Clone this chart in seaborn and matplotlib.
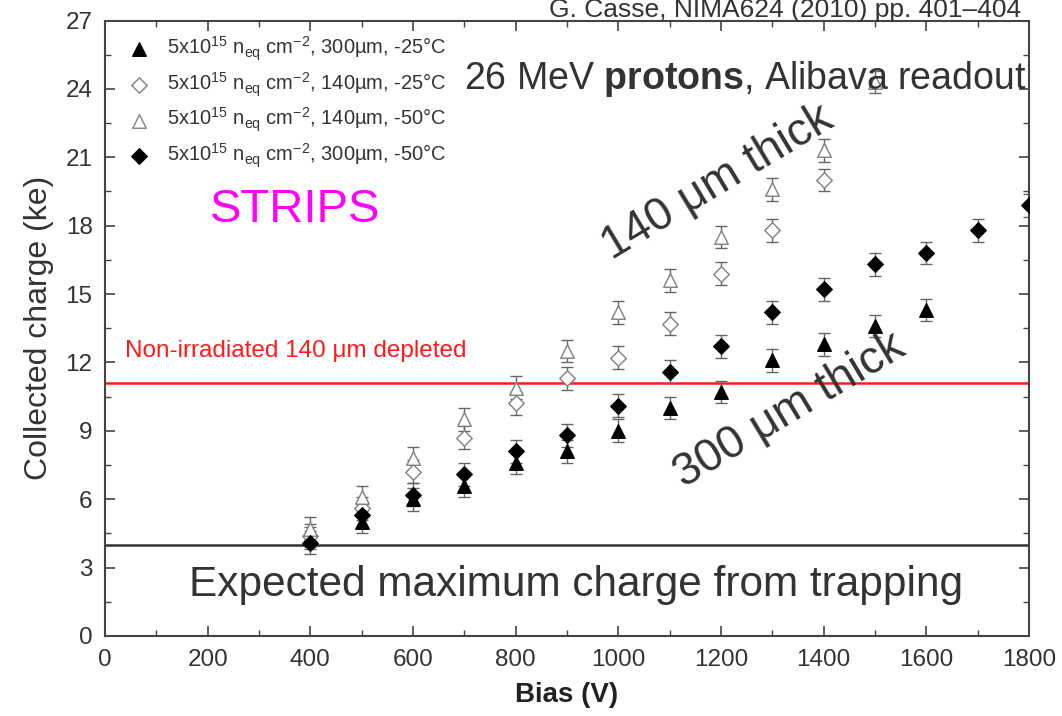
import numpy as np
import pandas as pd
import matplotlib
matplotlib.use("Agg")
import matplotlib.pyplot as plt
import seaborn as sns

# ---- data ----
bias_a = [400, 500, 600, 700, 800, 900, 1000, 1100, 1200, 1300, 1400, 1500, 1600]
charge_a = [4.3, 5.0, 6.0, 6.6, 7.6, 8.1, 9.0, 10.0, 10.7, 12.1, 12.8, 13.6, 14.3]   # 300um -25C

bias_b = [400, 500, 600, 700, 800, 900, 1000, 1100, 1200, 1300, 1400]
charge_b = [4.4, 5.6, 7.2, 8.7, 10.2, 11.3, 12.2, 13.7, 15.9, 17.8, 20.0]           # 140um -25C

bias_c = [400, 500, 600, 700, 800, 900, 1000, 1100, 1200, 1300, 1400, 1500]
charge_c = [4.7, 6.1, 7.8, 9.5, 10.9, 12.5, 14.2, 15.6, 17.5, 19.6, 21.3, 24.3]     # 140um -50C

bias_d = [400, 500, 600, 700, 800, 900, 1000, 1100, 1200, 1300, 1400, 1500, 1600, 1700, 1800]
charge_d = [4.1, 5.3, 6.2, 7.1, 8.1, 8.8, 10.1, 11.6, 12.7, 14.2, 15.2, 16.3, 16.8, 17.8, 18.9]  # 300um -50C

err = 0.5
non_irradiated_level = 11.1
trapping_level = 4.0

labels = [
    r"5x10$^{15}$ n$_{eq}$ cm$^{-2}$, 300µm, -25°C",
    r"5x10$^{15}$ n$_{eq}$ cm$^{-2}$, 140µm, -25°C",
    r"5x10$^{15}$ n$_{eq}$ cm$^{-2}$, 140µm, -50°C",
    r"5x10$^{15}$ n$_{eq}$ cm$^{-2}$, 300µm, -50°C",
]

sns.set_theme(style="ticks")
plt.rcParams["font.family"] = ["Liberation Sans", "DejaVu Sans"]
plt.rcParams["mathtext.fontset"] = "custom"
plt.rcParams["mathtext.rm"] = "Liberation Sans"
plt.rcParams["mathtext.it"] = "Liberation Sans:italic"
plt.rcParams["mathtext.bf"] = "Liberation Sans:bold"
plt.rcParams["mathtext.default"] = "regular"

fig = plt.figure(figsize=(10.62, 7.16), dpi=100)
ax = fig.add_axes([105 / 1062, 1 - 636 / 716, 924 / 1062, 615.5 / 716])

series = [
    (bias_a, charge_a, labels[0], "^", "black", "black"),
    (bias_b, charge_b, labels[1], "D", "white", "#808080"),
    (bias_c, charge_c, labels[2], "^", "white", "#808080"),
    (bias_d, charge_d, labels[3], "D", "black", "black"),
]

for x, y, lab, m, fc, ec in series:
    ax.errorbar(x, y, yerr=err, fmt="none", ecolor="#666666", elinewidth=1.0,
                capsize=4.5, capthick=1.0, zorder=2)
    df = pd.DataFrame({"bias": x, "charge": y})
    sns.scatterplot(data=df, x="bias", y="charge", ax=ax, marker=m, s=95 if m == "^" else 62,
                    color=fc, edgecolor=ec, linewidth=1.0, label=lab, zorder=3)

ax.axhline(non_irradiated_level, color="#ff1a1a", lw=1.8, zorder=1)
ax.axhline(trapping_level, color="#333333", lw=1.8, zorder=1)

ax.set_xlim(0, 1800)
ax.set_ylim(0, 27)
ax.set_xticks(np.arange(0, 1801, 200))
ax.set_xticks(np.arange(0, 1801, 100), minor=True)
ax.set_yticks(np.arange(0, 28, 3))
ax.set_yticks(np.arange(0, 27.1, 1.5), minor=True)
ax.tick_params(which="both", direction="in", top=True, right=True, colors="#444444",
               labelcolor="#333333", labelsize=17.5)
ax.tick_params(which="major", length=7, width=1.2, pad=9)
ax.tick_params(which="minor", length=4, width=1.0)
for sp in ax.spines.values():
    sp.set_color("#444444")
    sp.set_linewidth(1.5)

ax.set_xlabel("Bias (V)", fontsize=20, fontweight="bold", color="#222222", labelpad=8)
ax.set_ylabel("Collected charge (ke)", fontsize=23, color="#333333", labelpad=8)

leg = ax.legend(loc="upper left", bbox_to_anchor=(0.016, 0.99), frameon=False, fontsize=14.5,
                labelspacing=0.36, handletextpad=0.85, borderaxespad=0.0, handlelength=1.1)
for t in leg.get_texts():
    t.set_color("#333333")

fig.text(785 / 1062, 1 - 17 / 716, "G. Casse, NIMA624 (2010) pp. 401–404", fontsize=19,
         color="#333333", ha="center", va="baseline")
ax.text(0.997, 0.905, r"26 MeV $\mathbf{protons}$, Alibava readout", transform=ax.transAxes,
        fontsize=27, color="#333333", ha="right", va="center")
ax.text(0.113, 0.692, "STRIPS", transform=ax.transAxes, fontsize=34, color="#ff00ff",
        ha="left", va="center")
ax.text(1192, 19.9, "140 μm thick", fontsize=33, color="#333333", rotation=31,
        ha="center", va="center", rotation_mode="anchor")
ax.text(1334, 9.9, "300 μm thick", fontsize=33, color="#333333", rotation=31,
        ha="center", va="center", rotation_mode="anchor")
ax.text(39, 12.5, "Non-irradiated 140 μm depleted", fontsize=17.5, color="#ff1a1a",
        ha="left", va="center")
ax.text(918, 2.25, "Expected maximum charge from trapping", fontsize=30.5, color="#333333",
        ha="center", va="center")

fig.savefig("out.png", dpi=100)
